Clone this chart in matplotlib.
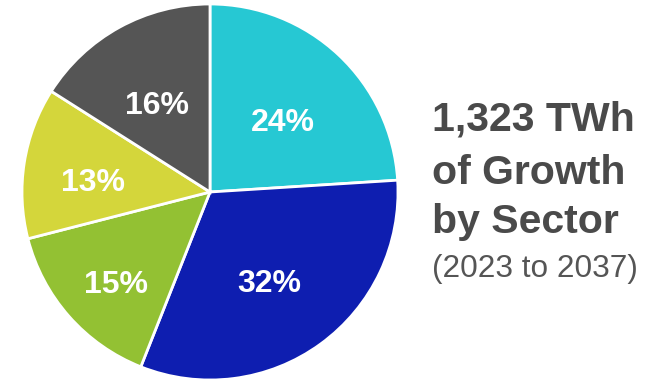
import numpy as np
import matplotlib.pyplot as plt

# sector shares, clockwise from 12 o'clock
shares = [24, 32, 15, 13, 16]
colors = ['#26C8D3', '#0E1EB0', '#93C133', '#D4D63B', '#555555']
label_r = [0.57, 0.54, 0.67, 0.63, 0.58]

title_lines = ['1,323 TWh', 'of Growth', 'by Sector']
subtitle = '(2023 to 2037)'

plt.rcParams['font.family'] = ['Liberation Sans', 'DejaVu Sans']

W, H = 652, 384
fig = plt.figure(figsize=(W / 100, H / 100), dpi=100)

cx, cy, r = 210, 192, 188
ax = fig.add_axes([(cx - r) / W, (H - cy - r) / H, 2 * r / W, 2 * r / H])

wedges, _ = ax.pie(shares, colors=colors, startangle=90, counterclock=False,
                   wedgeprops=dict(edgecolor='white', linewidth=2))
ax.set_aspect('equal')
ax.set_xlim(-1, 1)
ax.set_ylim(-1, 1)

for w, s, d in zip(wedges, shares, label_r):
    ang = np.deg2rad((w.theta1 + w.theta2) / 2)
    ax.text(d * np.cos(ang), d * np.sin(ang) - 0.05, f'{s}%', ha='center', va='center',
            color='white', fontsize=23, fontweight='bold')

tx = 432 / W
for y, line in zip([130, 184, 233], title_lines):
    fig.text(tx, 1 - y / H, line, fontsize=29.5, fontweight='bold',
             color='#4a4a4a', ha='left', va='baseline')
fig.text(tx, 1 - 277 / H, subtitle, fontsize=22.7, color='#555555',
         ha='left', va='baseline')

fig.savefig('out.png', dpi=100)
